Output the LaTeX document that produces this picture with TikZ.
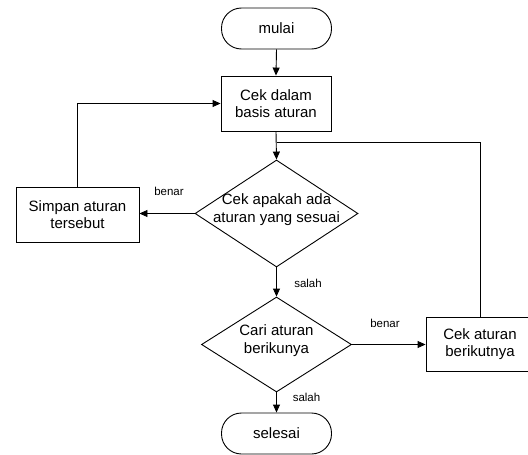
\documentclass[tikz,border=0pt]{standalone}
\usepackage{fontspec}
\setmainfont{Liberation Sans}
\usetikzlibrary{shapes.geometric,arrows.meta}
\newcommand\dtext[1]{\makebox[0pt]{\smash{\begin{tabular}{@{}c@{}}#1\end{tabular}}}}
\begin{document}
\begin{tikzpicture}[x=1pt,y=1pt,
  every node/.style={font=\fontsize{15}{17.5}\selectfont},
  boxst/.style={draw, line width=0.9pt, inner sep=0pt, align=center, minimum width=#1},
  termst/.style={draw, line width=0.9pt, rounded corners=20pt, inner sep=0pt, minimum width=110pt, minimum height=41pt},
  diast/.style={draw, diamond, line width=0.9pt, inner sep=0pt, minimum width=#1},
  lbl/.style={font=\fontsize{11.5}{13}\selectfont, inner sep=0pt},
  conn/.style={line width=0.9pt, -{Triangle[length=8pt,width=7pt]}},
  plain/.style={line width=0.9pt}
]
\useasboundingbox (0,0) rectangle (528,-455);
\node[termst] (mulai) at (276.5,-28.5) {mulai};
\node[boxst=110pt, minimum height=55pt] (cek) at (276,-103.5) {Cek dalam\\basis aturan};
\node[diast=163pt, minimum height=107pt] (d1) at (276.5,-213.5) {\dtext{Cek apakah ada\\aturan yang sesuai}};
\node[boxst=123pt, minimum height=55pt] (simpan) at (77.5,-214.5) {Simpan aturan\\tersebut};
\node[diast=150pt, minimum height=95pt] (d2) at (276.5,-344.5) {\dtext{Cari aturan\\berikunya}};
\node[boxst=108pt, minimum height=54pt] (next) at (480,-344) {Cek aturan\\berikutnya};
\node[termst] (selesai) at (276.5,-433.5) {selesai};
\coordinate (join) at (276.5,-142);

\draw[conn] (mulai.south) -- (cek.north);
\draw[conn] (cek.south) -- (d1.north);
\draw[conn] (d1.west) -- (simpan.east |- d1.west);
\draw[conn] (simpan.north) |- (cek.west);
\draw[conn] (d1.south) -- (d2.north);
\draw[conn] (d2.east) -- (next.west |- d2.east);
\draw[conn] (d2.south) -- (selesai.north);
\draw[plain] (next.north) |- (join);

\node[lbl] (l1) at (169,-191) {benar};
\node[lbl] (l2) at (308,-283) {salah};
\node[lbl] (l3) at (385,-323) {benar};
\node[lbl] (l4) at (306.5,-397) {salah};
\end{tikzpicture}
\end{document}
